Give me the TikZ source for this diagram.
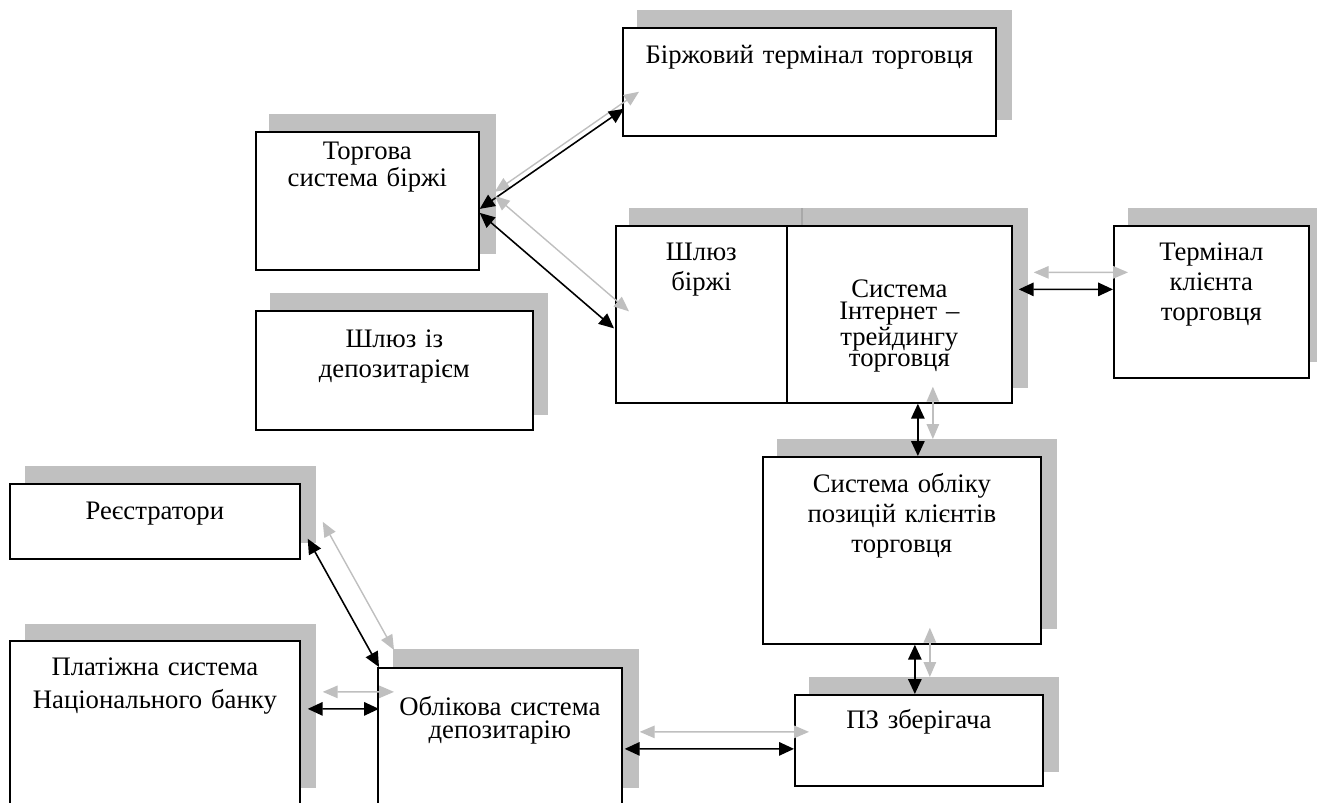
\documentclass[tikz,border=0pt]{standalone}
\usepackage{fontspec}
\setmainfont{Liberation Serif}
\usetikzlibrary{arrows.meta}
\definecolor{BoxShadow}{HTML}{C0C0C0}
\definecolor{ShadowEdge}{HTML}{A8A8A8}
\definecolor{FlowGrey}{HTML}{BFBFBF}
\setlength{\lineskiplimit}{-100pt}
\tikzset{
  sysbox/.style={draw, line width=1pt, fill=white, inner sep=0pt, anchor=north west, align=center,
    font=\fontsize{15.2}{17}\selectfont},
  flow/.style={line width=0.9pt, {Triangle[length=0.3cm,width=0.27cm]}-{Triangle[length=0.3cm,width=0.27cm]}},
  flowshade/.style={FlowGrey, line width=0.8pt, {Triangle[length=0.3cm,width=0.25cm]}-{Triangle[length=0.3cm,width=0.25cm]},
    transform canvas={shift={(15,-17)}}}
}
\begin{document}
\begin{tikzpicture}[x=0.02cm,y=-0.02cm]
\useasboundingbox (0,0) rectangle (1317,802);
\clip (0,0) rectangle (1317,802);
\fill[BoxShadow] (637,10) rectangle (1012,120);
\fill[BoxShadow] (269,114) rectangle (496,254);
\fill[BoxShadow] (629,208) rectangle (802,388);
\fill[BoxShadow] (802,208) rectangle (1028,388);
\draw[ShadowEdge, line width=0.6pt] (802,208) -- (802,225);
\fill[BoxShadow] (1128,208) rectangle (1325,362);
\fill[BoxShadow] (270,293) rectangle (548,415);
\fill[BoxShadow] (777,439) rectangle (1057,629);
\fill[BoxShadow] (809,677) rectangle (1059,772);
\fill[BoxShadow] (25,466) rectangle (316,543);
\fill[BoxShadow] (25,624) rectangle (316,788);
\fill[BoxShadow] (393,649) rectangle (639,788);
\node[sysbox, text width=7.46cm, text height=0.72cm, text depth=1.44cm] (birzh) at (622,27) {Біржовий термінал торговця};
\node[sysbox, text width=4.46cm, text height=0.56cm, text depth=2.20cm, font=\fontsize{15.2}{12.2}\selectfont] (torg) at (255,131) {Торгова\\система біржі};
\node[sysbox, text width=3.42cm, text height=0.70cm, text depth=2.84cm] (gate) at (615,225) {Шлюз\\біржі};
\node[sysbox, text width=4.50cm, text height=1.44cm, text depth=2.10cm, font=\fontsize{15.2}{12.2}\selectfont] (inet) at (786,225) {Система\\Інтернет –\\трейдингу\\торговця};
\node[sysbox, text width=3.90cm, text height=0.70cm, text depth=2.34cm] (term) at (1113,225) {Термінал\\клієнта\\торговця};
\node[sysbox, text width=5.54cm, text height=0.74cm, text depth=1.64cm] (depgate) at (255,310) {Шлюз із\\депозитарієм};
\node[sysbox, text width=5.56cm, text height=0.72cm, text depth=3.02cm] (pos) at (762,456) {Система обліку\\позицій клієнтів\\торговця};
\node[sysbox, text width=4.96cm, text height=0.68cm, text depth=1.14cm] (keeper) at (794,694) {ПЗ зберігача};
\node[sysbox, text width=5.80cm, text height=0.72cm, text depth=0.78cm] (reg) at (9,483) {Реєстратори};
\node[sysbox, text width=5.80cm, text height=0.70cm, text depth=2.58cm, font=\fontsize{15.2}{18.8}\selectfont] (nbu) at (9,640) {Платіжна система\\Національного банку};
\node[sysbox, text width=4.88cm, text height=0.96cm, text depth=1.78cm, font=\fontsize{15.2}{12.6}\selectfont] (dep) at (377,667) {Облікова система\\депозитарію};
\draw[flowshade] ([shift={(0,8)}]torg.east) -- ([shift={(2,-28)}]birzh.south west);
\draw[flow] ([shift={(0,8)}]torg.east) -- ([shift={(2,-28)}]birzh.south west);
\draw[flowshade] ([shift={(0,12)}]torg.east) -- ([shift={(-1,14)}]gate.west);
\draw[flow] ([shift={(0,12)}]torg.east) -- ([shift={(-1,14)}]gate.west);
\draw[flowshade] ([shift={(6,-25)}]inet.east) -- ([shift={(0,-12.5)}]term.west);
\draw[flow] ([shift={(6,-25)}]inet.east) -- ([shift={(0,-12.5)}]term.west);
\draw[flowshade] ([shift={(18.5,0)}]inet.south) -- ([shift={(18.5,0)}]inet.south |- pos.north);
\draw[flow] ([shift={(18.5,0)}]inet.south) -- ([shift={(18.5,0)}]inet.south |- pos.north);
\draw[flowshade] ([shift={(13,0)}]pos.south) -- ([shift={(13,0)}]pos.south |- keeper.north);
\draw[flow] ([shift={(13,0)}]pos.south) -- ([shift={(13,0)}]pos.south |- keeper.north);
\draw[flowshade] ([shift={(2,12.5)}]dep.east) -- ([shift={(0,8.5)}]keeper.west);
\draw[flow] ([shift={(2,12.5)}]dep.east) -- ([shift={(0,8.5)}]keeper.west);
\draw[flowshade] ([shift={(7,-21)}]reg.south east) -- ([shift={(2,0)}]dep.north west);
\draw[flow] ([shift={(7,-21)}]reg.south east) -- ([shift={(2,0)}]dep.north west);
\draw[flowshade] ([shift={(7,-14)}]nbu.east) -- ([shift={(2,-27.5)}]dep.west);
\draw[flow] ([shift={(7,-14)}]nbu.east) -- ([shift={(2,-27.5)}]dep.west);
\end{tikzpicture}
\end{document}
